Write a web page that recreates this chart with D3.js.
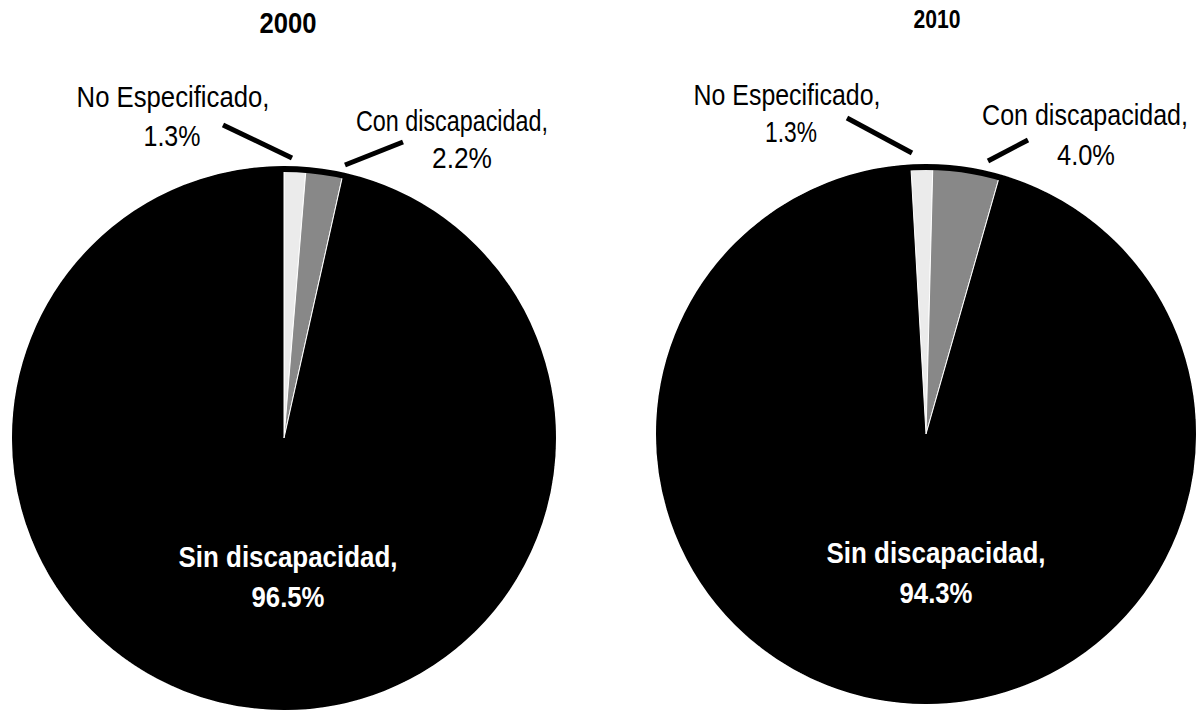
<!DOCTYPE html>
<html>
<head>
<meta charset="utf-8">
<script src="https://cdn.jsdelivr.net/npm/d3@7"></script>
<style>
  html, body { margin: 0; padding: 0; background: #fff; }
  svg { display: block; font-family: "Liberation Sans Narrow", "Arial Narrow", "Liberation Sans", Arial, sans-serif; }
</style>
</head>
<body>
<svg id="chart" width="1199" height="713"></svg>
<script>
// ---- data ----
const categories = ["No Especificado", "Con discapacidad", "Sin discapacidad"];
const years = ["2000", "2010"];
const values2000 = [1.3, 2.2, 96.5];
const values2010 = [1.3, 4.0, 94.3];
const valueLabels2000 = ["1.3%", "2.2%", "96.5%"];
const valueLabels2010 = ["1.3%", "4.0%", "94.3%"];

// ---- layout / style ----
const colors = d3.scaleOrdinal().domain(categories).range(["#ebebeb", "#888888", "#000000"]);

const layouts = [
  {
    cx: 284, cy: 438, r: 272, start: 0,
    title: { x: 288, y: 33, size: 29, w: 57 },
    ext: [
      { lines: [{ x: 173, y: 107, w: 193 }, { x: 172, y: 146, w: 57 }], leader: [[223, 125], [292, 158]] },
      { lines: [{ x: 452, y: 131, w: 192 }, { x: 462, y: 168, w: 60 }], leader: [[403, 142], [345, 165]] }
    ],
    inner: [{ x: 288, y: 567, w: 219 }, { x: 288, y: 607, w: 73 }]
  },
  {
    cx: 926, cy: 434, r: 270, start: -0.0565,
    title: { x: 937, y: 28, size: 26, w: 47 },
    ext: [
      { lines: [{ x: 787, y: 105, w: 187 }, { x: 791, y: 142, w: 52 }], leader: [[847, 118], [912, 153]] },
      { lines: [{ x: 1085, y: 125, w: 206 }, { x: 1086, y: 165, w: 58 }], leader: [[1028, 140], [988, 161]] }
    ],
    inner: [{ x: 936, y: 563, w: 219 }, { x: 936, y: 603, w: 73 }]
  }
];

const datasets = [
  { year: years[0], values: values2000, labels: valueLabels2000 },
  { year: years[1], values: values2010, labels: valueLabels2010 }
];

const svg = d3.select("#chart");

// condensed text: natural glyphs scaled horizontally to the target width
function addText(x, y, w, size, weight, fill, t) {
  const txt = svg.append("text")
    .attr("x", 0).attr("y", 0)
    .attr("text-anchor", "middle")
    .attr("font-size", size)
    .attr("font-weight", weight)
    .attr("fill", fill)
    .text(t);
  const natural = txt.node().getComputedTextLength() || w;
  const sx = w / natural;
  txt.attr("transform", `translate(${x},${y}) scale(${sx},1)`);
  return txt;
}

datasets.forEach((ds, i) => {
  const L = layouts[i];
  const rows = categories.map((c, k) => ({ cat: c, value: ds.values[k], label: ds.labels[k] }));
  const pie = d3.pie().value(d => d.value).sort(null)
    .startAngle(L.start).endAngle(L.start + 2 * Math.PI);
  const arcs = pie(rows);
  const arc = d3.arc().innerRadius(0).outerRadius(L.r);

  const g = svg.append("g").attr("transform", `translate(${L.cx},${L.cy})`);
  g.selectAll("path.slice").data(arcs).join("path")
    .attr("class", "slice")
    .attr("d", arc)
    .attr("fill", d => colors(d.data.cat))
    .attr("stroke", "#fff")
    .attr("stroke-width", 1);

  // thick black outline of the pie
  g.append("circle")
    .attr("r", L.r - 3)
    .attr("fill", "none")
    .attr("stroke", "#000")
    .attr("stroke-width", 6);

  // title
  addText(L.title.x, L.title.y, L.title.w, L.title.size, "bold", "#000", ds.year);

  // external labels + leader lines for the two small slices
  L.ext.forEach((e, k) => {
    const row = rows[k];
    svg.append("line")
      .attr("x1", e.leader[0][0]).attr("y1", e.leader[0][1])
      .attr("x2", e.leader[1][0]).attr("y2", e.leader[1][1])
      .attr("stroke", "#000").attr("stroke-width", 5);
    [row.cat + ",", row.label].forEach((t, j) => {
      addText(e.lines[j].x, e.lines[j].y, e.lines[j].w, 29, "normal", "#000", t);
    });
  });

  // inner label for the big slice
  const big = rows[2];
  [big.cat + ",", big.label].forEach((t, j) => {
    addText(L.inner[j].x, L.inner[j].y, L.inner[j].w, 30, "bold", "#fff", t);
  });
});
</script>
</body>
</html>
